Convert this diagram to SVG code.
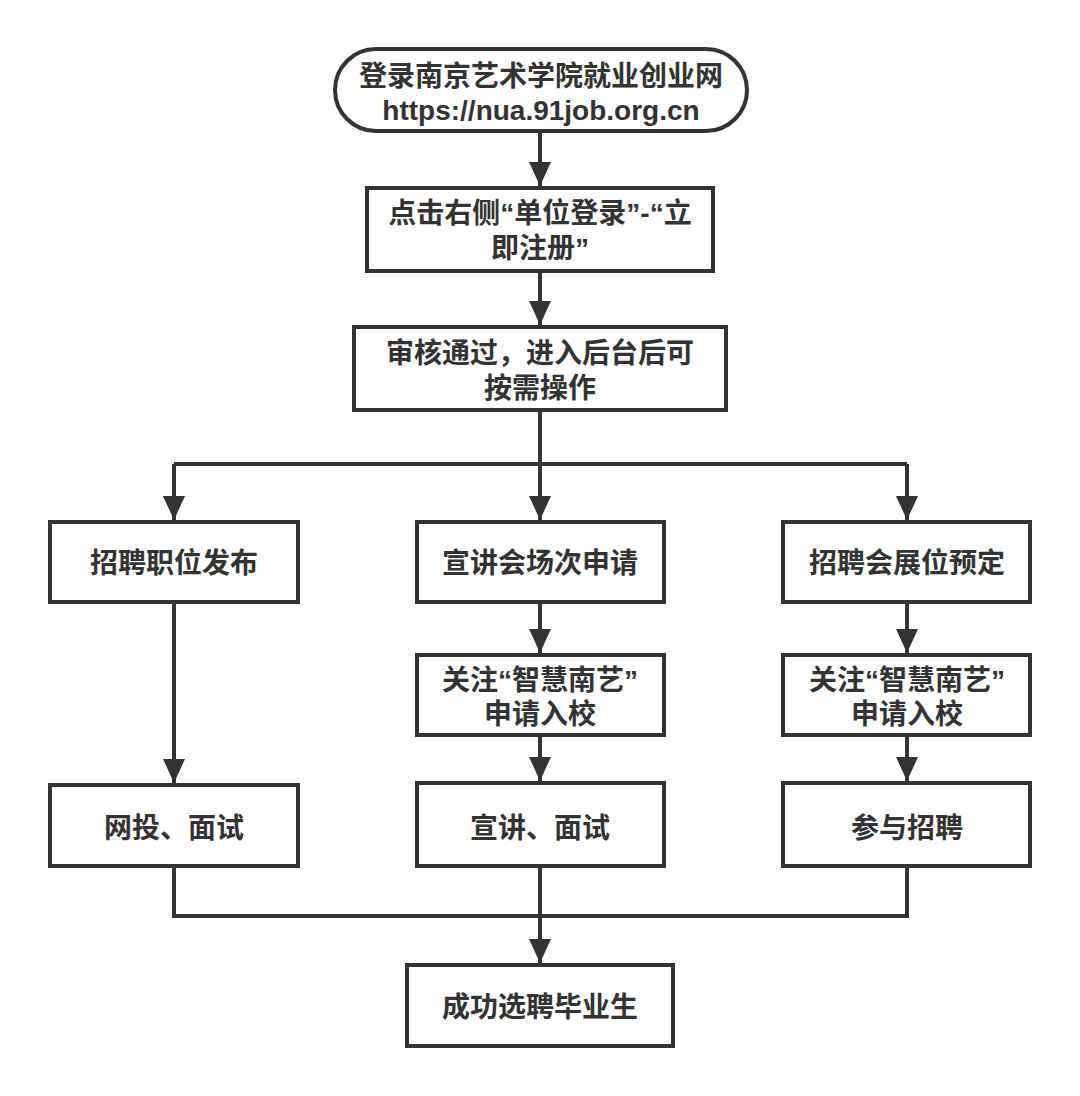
<svg xmlns="http://www.w3.org/2000/svg" width="1080" height="1096" viewBox="0 0 1080 1096">
<style>
.box{fill:#fff;stroke:#333;stroke-width:4}
.t{font-family:"Liberation Sans","Noto Sans CJK SC",sans-serif;font-weight:bold;font-size:28px;fill:#333;text-anchor:middle;dominant-baseline:central}
.c{fill:none;stroke:#333;stroke-width:4}
</style>
<defs>
<marker id="ah" markerUnits="userSpaceOnUse" markerWidth="26" markerHeight="24" viewBox="0 0 26 24" refX="24" refY="12" orient="auto">
<path d="M0,1 L24,12 L0,23 Z" fill="#333"/>
</marker>
</defs>
<rect width="1080" height="1096" fill="#fff"/>
<g id="connectors">
<path class="c" d="M540,131 V186" marker-end="url(#ah)"/>
<path class="c" d="M540,271 V325" marker-end="url(#ah)"/>
<path class="c" d="M540,410 V520" marker-end="url(#ah)"/>
<path class="c" d="M174,464 H907"/>
<path class="c" d="M174,464 V520" marker-end="url(#ah)"/>
<path class="c" d="M907,464 V520" marker-end="url(#ah)"/>
<path class="c" d="M174,602 V783" marker-end="url(#ah)"/>
<path class="c" d="M540,602 V653" marker-end="url(#ah)"/>
<path class="c" d="M907,602 V653" marker-end="url(#ah)"/>
<path class="c" d="M540,735 V781" marker-end="url(#ah)"/>
<path class="c" d="M907,735 V781" marker-end="url(#ah)"/>
<path class="c" d="M174,866 V916 H907 V866"/>
<path class="c" d="M540,866 V963" marker-end="url(#ah)"/>
</g>
<g id="n1">
<rect class="box" x="335" y="49" width="412" height="82" rx="41"/>
<text class="t" x="541" y="76">登录南京艺术学院就业创业网</text>
<text class="t" x="541" y="110">https://nua.91job.org.cn</text>
</g>
<g id="n2">
<rect class="box" x="367" y="188" width="346" height="83"/>
<text class="t" x="540" y="213">点击右侧“单位登录”-“立</text>
<text class="t" x="540" y="248">即注册”</text>
</g>
<g id="n3">
<rect class="box" x="354" y="327" width="372" height="83"/>
<text class="t" x="540" y="353">审核通过，进入后台后可</text>
<text class="t" x="540" y="388">按需操作</text>
</g>
<g id="n4">
<rect class="box" x="50" y="522" width="248" height="80"/>
<text class="t" x="174" y="563">招聘职位发布</text>
</g>
<g id="n5">
<rect class="box" x="417" y="522" width="247" height="80"/>
<text class="t" x="540" y="563">宣讲会场次申请</text>
</g>
<g id="n6">
<rect class="box" x="783" y="522" width="247" height="80"/>
<text class="t" x="907" y="563">招聘会展位预定</text>
</g>
<g id="n7">
<rect class="box" x="417" y="655" width="247" height="80"/>
<text class="t" x="540" y="680">关注“智慧南艺”</text>
<text class="t" x="540" y="714">申请入校</text>
</g>
<g id="n8">
<rect class="box" x="783" y="655" width="247" height="80"/>
<text class="t" x="907" y="680">关注“智慧南艺”</text>
<text class="t" x="907" y="714">申请入校</text>
</g>
<g id="n9">
<rect class="box" x="50" y="785" width="248" height="81"/>
<text class="t" x="174" y="828">网投、面试</text>
</g>
<g id="n10">
<rect class="box" x="417" y="783" width="247" height="83"/>
<text class="t" x="540" y="828">宣讲、面试</text>
</g>
<g id="n11">
<rect class="box" x="783" y="783" width="247" height="83"/>
<text class="t" x="907" y="828">参与招聘</text>
</g>
<g id="n12">
<rect class="box" x="407" y="965" width="266" height="81"/>
<text class="t" x="540" y="1007">成功选聘毕业生</text>
</g>
</svg>
